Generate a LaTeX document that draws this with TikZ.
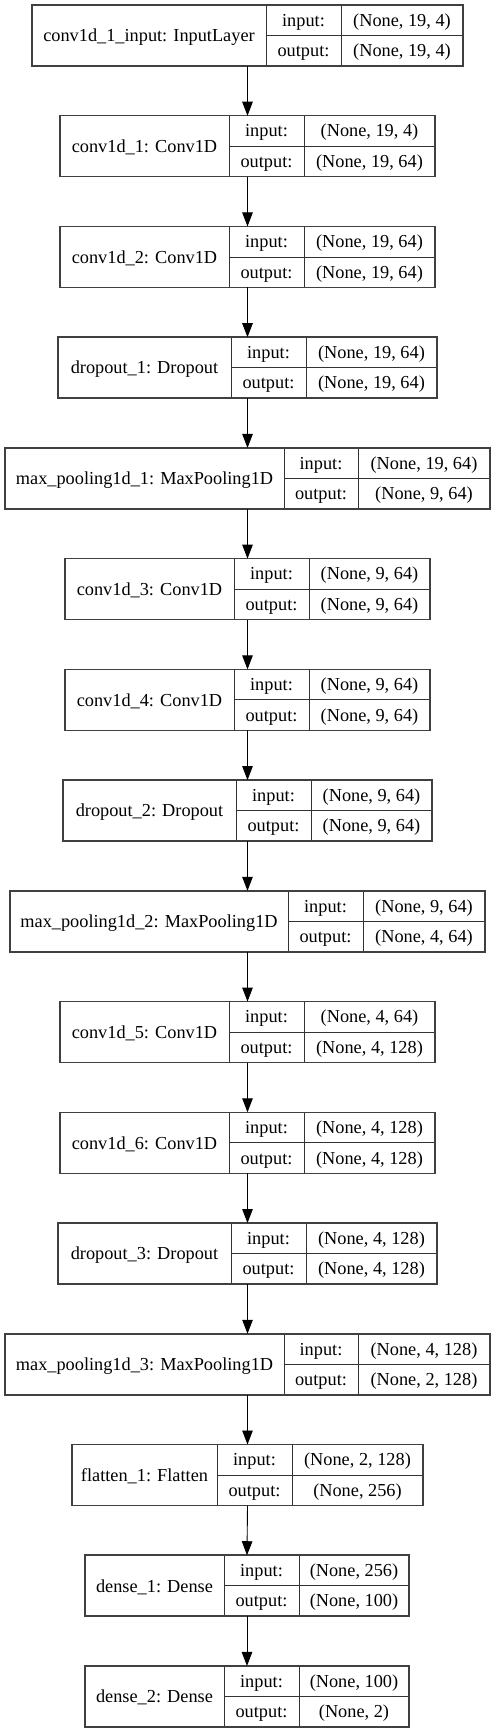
\documentclass[tikz,border=0pt]{standalone}
\usepackage{fontspec}
\setmainfont{Liberation Serif}
\usetikzlibrary{arrows.meta}
\tikzset{
  layerbox/.style={draw=black!75, line width=1.5pt, inner sep=0pt, outer sep=0pt, anchor=north west},
  divider/.style={draw=black!80, line width=0.9pt},
  txt/.style={inner sep=0pt, anchor=base, font=\fontsize{18.3}{20}\selectfont},
  flow/.style={draw=black, line width=0.9pt, -{Triangle[length=14pt,width=10.5pt]}},
}
\newcommand\kerasLayer[8]{%
  \pgfmathsetmacro\ktop{5+#1*110.73}%
  \pgfmathsetmacro\kbot{\ktop+61}%
  \pgfmathsetmacro\kmid{\ktop+30.5}%
  \pgfmathsetmacro\kw{#5-#2}%
  \draw[divider] (#3,\ktop) -- (#3,\kbot) (#3,\kmid) -- (#5,\kmid) (#4,\ktop) -- (#4,\kbot);
  \node[layerbox, minimum width=\kw pt, minimum height=61pt] (L#1) at (#2,\ktop) {};
  \node[txt] (L#1name) at ({(#2+#3)/2},\kmid+6.3) {#6};
  \node[txt] (L#1inlab) at ({(#3+#4)/2},\ktop+15.25+6) {input:};
  \node[txt] (L#1outlab) at ({(#3+#4)/2},\ktop+45.75+6) {output:};
  \node[txt] (L#1in) at ({(#4+#5)/2},\ktop+15.25+6) {#7};
  \node[txt] (L#1out) at ({(#4+#5)/2},\ktop+45.75+6) {#8};
}
\begin{document}
\begin{tikzpicture}[x=1pt,y=-1pt]
\useasboundingbox[fill=white] (0,0) rectangle (495,1733);
\kerasLayer{0}{32}{266}{341}{463}{conv1d\_1\_input: InputLayer}{(None, 19, 4)}{(None, 19, 4)}
\kerasLayer{1}{60}{229}{304}{435}{conv1d\_1: Conv1D}{(None, 19, 4)}{(None, 19, 64)}
\kerasLayer{2}{60}{229}{304}{435}{conv1d\_2: Conv1D}{(None, 19, 64)}{(None, 19, 64)}
\kerasLayer{3}{58}{231}{306}{437}{dropout\_1: Dropout}{(None, 19, 64)}{(None, 19, 64)}
\kerasLayer{4}{5}{284}{358}{490}{max\_pooling1d\_1: MaxPooling1D}{(None, 19, 64)}{(None, 9, 64)}
\kerasLayer{5}{65}{234}{309}{430}{conv1d\_3: Conv1D}{(None, 9, 64)}{(None, 9, 64)}
\kerasLayer{6}{65}{234}{309}{430}{conv1d\_4: Conv1D}{(None, 9, 64)}{(None, 9, 64)}
\kerasLayer{7}{63}{236}{311}{432}{dropout\_2: Dropout}{(None, 9, 64)}{(None, 9, 64)}
\kerasLayer{8}{10}{288}{363}{485}{max\_pooling1d\_2: MaxPooling1D}{(None, 9, 64)}{(None, 4, 64)}
\kerasLayer{9}{60}{229}{304}{435}{conv1d\_5: Conv1D}{(None, 4, 64)}{(None, 4, 128)}
\kerasLayer{10}{60}{229}{304}{435}{conv1d\_6: Conv1D}{(None, 4, 128)}{(None, 4, 128)}
\kerasLayer{11}{58}{231}{306}{437}{dropout\_3: Dropout}{(None, 4, 128)}{(None, 4, 128)}
\kerasLayer{12}{5}{284}{358}{490}{max\_pooling1d\_3: MaxPooling1D}{(None, 4, 128)}{(None, 2, 128)}
\kerasLayer{13}{72}{217}{292}{423}{flatten\_1: Flatten}{(None, 2, 128)}{(None, 256)}
\kerasLayer{14}{85}{224}{299}{409}{dense\_1: Dense}{(None, 256)}{(None, 100)}
\kerasLayer{15}{85}{224}{299}{409}{dense\_2: Dense}{(None, 100)}{(None, 2)}
\foreach \a/\b in {0/1,1/2,2/3,3/4,4/5,5/6,6/7,7/8,8/9,9/10,10/11,11/12,12/13,13/14,14/15}
  \draw[flow] (L\a.south) -- (L\b.north);
\end{tikzpicture}
\end{document}
